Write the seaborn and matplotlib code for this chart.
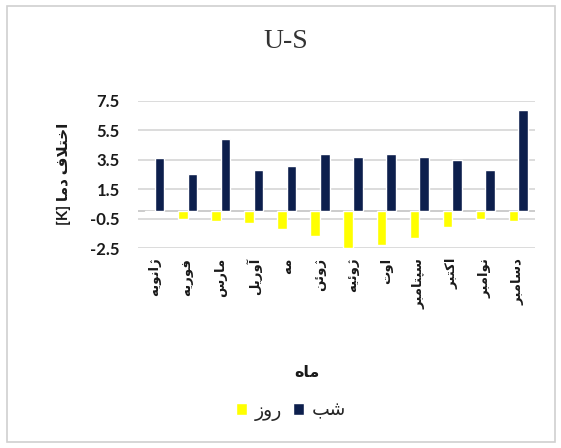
import matplotlib
matplotlib.use("Agg")
import matplotlib.pyplot as plt
from matplotlib.patches import Rectangle
import seaborn as sns
import pandas as pd

# ---- data -------------------------------------------------------------
months = ["ژانویه", "فوریه", "مارس", "آوریل", "مه", "ژوئن",
          "ژوئیه", "اوت", "سپتامبر", "اکتبر", "نوامبر", "دسامبر"]
night = [3.6, 2.5, 4.9, 2.8, 3.1, 3.9, 3.7, 3.9, 3.7, 3.5, 2.8, 6.9]
day = [-0.05, -0.5, -0.7, -0.8, -1.2, -1.7, -2.5, -2.3, -1.8, -1.1, -0.5, -0.7]
y_ticks = [-2.5, -0.5, 1.5, 3.5, 5.5, 7.5]
title = "U-S"
x_title = "ماه"
y_title = "اختلاف دما"
y_unit = "[K]"
day_name = "روز"
night_name = "شب"

# ---- Persian shaping ---------------------------------------------------
# matplotlib lays glyphs out left to right without contextual joining,
# so words are converted to presentation forms and reversed.
FORMS = {  # isolated, final, initial, medial
    "ا": (0xFE8D, 0xFE8E), "آ": (0xFE81, 0xFE82),
    "د": (0xFEA9, 0xFEAA), "ر": (0xFEAD, 0xFEAE),
    "ز": (0xFEAF, 0xFEB0), "ژ": (0xFB8A, 0xFB8B),
    "و": (0xFEED, 0xFEEE),
    "ب": (0xFE8F, 0xFE90, 0xFE91, 0xFE92), "پ": (0xFB56, 0xFB57, 0xFB58, 0xFB59),
    "ت": (0xFE95, 0xFE96, 0xFE97, 0xFE98), "خ": (0xFEA5, 0xFEA6, 0xFEA7, 0xFEA8),
    "س": (0xFEB1, 0xFEB2, 0xFEB3, 0xFEB4), "ش": (0xFEB5, 0xFEB6, 0xFEB7, 0xFEB8),
    "ف": (0xFED1, 0xFED2, 0xFED3, 0xFED4), "ک": (0xFB8E, 0xFB8F, 0xFB90, 0xFB91),
    "ل": (0xFEDD, 0xFEDE, 0xFEDF, 0xFEE0), "م": (0xFEE1, 0xFEE2, 0xFEE3, 0xFEE4),
    "ن": (0xFEE5, 0xFEE6, 0xFEE7, 0xFEE8), "ه": (0xFEE9, 0xFEEA, 0xFEEB, 0xFEEC),
    "ی": (0xFBFC, 0xFBFD, 0xFBFE, 0xFBFF), "ئ": (0xFE89, 0xFE8A, 0xFE8B, 0xFE8C),
}
LAM_ALEF = {"ا": (0xFEFB, 0xFEFC), "آ": (0xFEF5, 0xFEF6)}


def dual(ch):
    return ch in FORMS and len(FORMS[ch]) == 4


def fa(text):
    out = []
    i = 0
    n = len(text)
    while i < n:
        ch = text[i]
        prev = text[i - 1] if i > 0 else ""
        nxt = text[i + 1] if i + 1 < n else ""
        joins_prev = dual(prev) and ch in FORMS
        if ch == "ل" and nxt in LAM_ALEF:
            out.append(chr(LAM_ALEF[nxt][1 if joins_prev else 0]))
            i += 2
            continue
        if ch not in FORMS:
            out.append(ch)
            i += 1
            continue
        forms = FORMS[ch]
        joins_next = dual(ch) and nxt in FORMS
        if joins_prev and joins_next:
            out.append(chr(forms[3]))
        elif joins_prev:
            out.append(chr(forms[1]))
        elif joins_next:
            out.append(chr(forms[2]))
        else:
            out.append(chr(forms[0]))
        i += 1
    return "".join(reversed(out))


# ---- figure ------------------------------------------------------------
sns.set_theme(style="white")
plt.rcParams["font.family"] = ["Lato", "DejaVu Sans"]

day_lbl, night_lbl = fa(day_name), fa(night_name)
month_lbls = [fa(m) for m in months]
df = pd.DataFrame({
    "month": month_lbls * 2,
    "value": day + night,
    "series": [day_lbl] * len(months) + [night_lbl] * len(months),
})

fig = plt.figure(figsize=(5.61, 4.48), dpi=100)
ax = fig.add_axes([138 / 561, 1 - 248 / 448, 397 / 561, 147.3 / 448])

sns.barplot(data=df, x="month", y="value", hue="series",
            order=month_lbls, hue_order=[day_lbl, night_lbl],
            palette=["#FFFF00", "#0D1F4D"], width=0.58, saturation=1,
            errorbar=None, ax=ax, zorder=3)

ax.set_xlim(-0.5, len(months) - 0.5)
ax.set_ylim(y_ticks[0], y_ticks[-1])
ax.set_yticks(y_ticks)
ax.set_yticklabels([f"{t:.1f}" for t in y_ticks])
for t in y_ticks:
    ax.axhline(t, color="#D9D9D9", lw=1.3, zorder=1)
ax.axhline(0, color="#C8C8C8", lw=1.3, zorder=2)
for s in ax.spines.values():
    s.set_visible(False)
ax.tick_params(axis="both", length=0)
ax.tick_params(axis="y", pad=13, labelsize=12, labelcolor="#1a1a1a")
ax.tick_params(axis="x", pad=7, labelsize=9.5, labelcolor="#1a1a1a")
for lab in ax.get_yticklabels():
    lab.set_fontweight("bold")
for lab in ax.get_xticklabels():
    lab.set_rotation(90)
    lab.set_fontweight("bold")
    lab.set_va("top")

ax.set_xlabel("")
ax.set_ylabel(y_unit + " " + fa(y_title), fontsize=11, fontweight="bold",
              color="#1a1a1a", labelpad=14)

fig.text(286 / 561, 1 - 41 / 448, title, ha="center", va="center",
         fontsize=20, family="Liberation Serif", color="#333333")
fig.text(307 / 561, 1 - 373 / 448, fa(x_title), ha="center", va="center",
         fontsize=11.5, fontweight="bold", color="#1a1a1a")

handles, labels = ax.get_legend_handles_labels()
if ax.get_legend() is not None:
    ax.get_legend().remove()
fig.legend(handles, labels, loc="center", bbox_to_anchor=(291 / 561, 1 - 411 / 448),
           ncol=2, frameon=False, handlelength=0.6, handleheight=0.6,
           handletextpad=0.4, columnspacing=0.6, prop={"size": 13.5})

fig.patches.append(Rectangle((7 / 561, 6 / 448), 548 / 561, 436 / 448,
                             transform=fig.transFigure, fill=False,
                             edgecolor="#D0D0D0", lw=1.2))

fig.savefig("out.png", dpi=100)
